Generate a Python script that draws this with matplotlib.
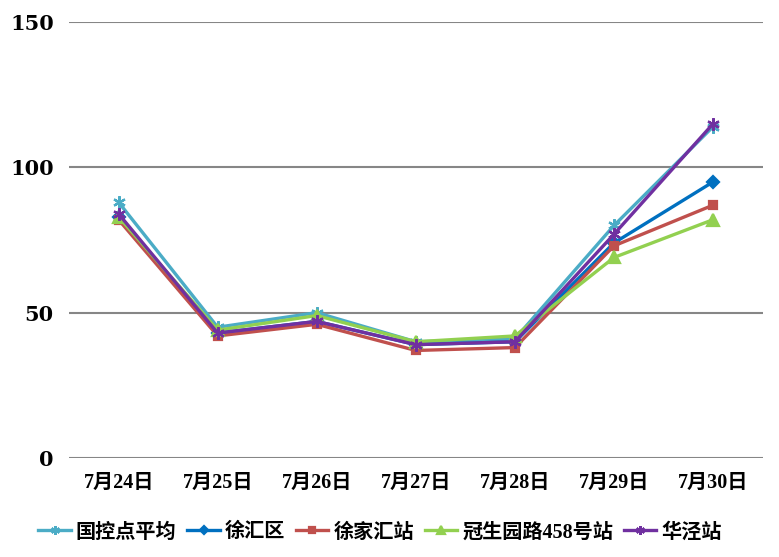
import matplotlib
matplotlib.use("Agg")
import matplotlib.pyplot as plt
import numpy as np

dates = ["7月24日", "7月25日", "7月26日", "7月27日", "7月28日", "7月29日", "7月30日"]
guokong = [88, 45, 50, 40, 41, 80, 114]
xuhui = [83, 43, 47, 39, 40, 74, 95]
xujiahui = [82, 42, 46, 37, 38, 73, 87]
guanshengyuan = [83, 44, 49, 40, 42, 69, 82]
huajing = [84, 43, 47, 39, 40, 77, 115]

series = [
    ("国控点平均", guokong, "#4BACC6", (6, 2, 0), 9),
    ("徐汇区", xuhui, "#0070C0", "D", 6),
    ("徐家汇站", xujiahui, "#C0504D", "s", 6),
    ("冠生园路458号站", guanshengyuan, "#92D050", "^", 8),
    ("华泾站", huajing, "#7030A0", (6, 2, 0), 9),
]

fam = ["Liberation Serif", "Noto Sans CJK SC"]

fig = plt.figure(figsize=(7.79, 5.57), dpi=100)
ax = fig.add_axes([0.0886, 0.1777, 0.8904, 0.7828])

x = np.arange(len(dates))
handles = []
for name, vals, col, mk, ms in series:
    h, = ax.plot(x, vals, color=col, lw=2.4, marker=mk, ms=ms, mew=1.6,
                 mec=col, mfc=col, label=name)
    handles.append(h)

ax.set_xlim(-0.5, len(dates) - 0.5)
ax.set_ylim(0, 150)
ax.set_yticks([0, 50, 100, 150])
ax.yaxis.grid(True, color="#868686", lw=1.5)
ax.set_axisbelow(True)
for s in ax.spines.values():
    s.set_visible(False)
ax.tick_params(length=0)
ax.set_xticks(x)
ax.set_xticklabels(dates, family=fam, weight="bold", fontsize=14.5)
for t in ax.get_yticklabels():
    t.set_family(["DejaVu Serif"])
    t.set_weight("bold")
    t.set_fontsize(15)
ax.tick_params(axis="y", pad=11)
ax.tick_params(axis="x", pad=11)

fig.legend(handles=handles, loc="center", bbox_to_anchor=(0.488, 0.044),
           ncol=5, frameon=False,
           prop={"family": fam, "weight": "bold", "size": 14.5},
           handlelength=1.6, handletextpad=0.25, columnspacing=0.55,
           markerscale=0.7)

fig.savefig("out.png", dpi=100)
